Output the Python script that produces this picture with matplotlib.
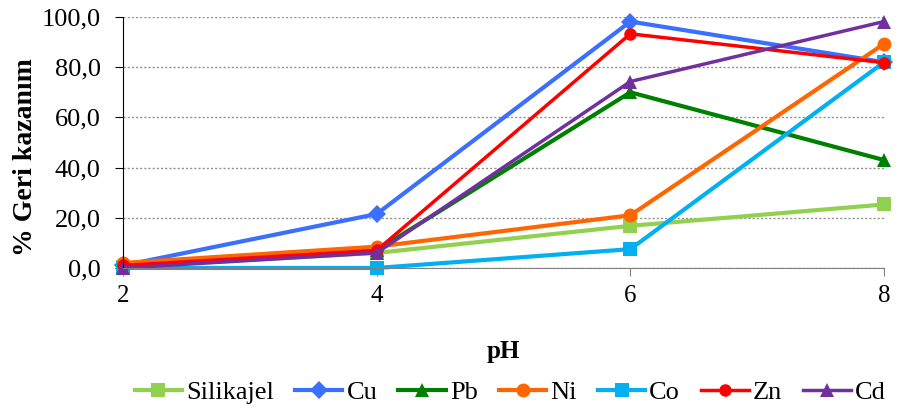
import matplotlib
matplotlib.use("Agg")
import matplotlib.pyplot as plt
from matplotlib.ticker import FuncFormatter

ph = [2, 4, 6, 8]
silikajel = [0.5, 6.0, 16.8, 25.3]
cu = [1.0, 21.5, 98.2, 82.0]
pb = [0.5, 7.0, 70.0, 43.0]
ni = [2.0, 8.5, 21.0, 89.3]
co = [0.0, 0.0, 7.5, 82.0]
zn = [1.0, 7.0, 93.3, 81.8]
cd = [0.0, 6.0, 74.3, 98.2]

names = ["Silikajel", "Cu", "Pb", "Ni", "Co", "Zn", "Cd"]
series = [silikajel, cu, pb, ni, co, zn, cd]
colors = ["#92D050", "#3A6FFF", "#008000", "#FF6600", "#00B0F0", "#FF0000", "#7030A0"]
markers = ["s", "D", "^", "o", "s", "o", "^"]
msizes = [10, 9, 10, 10, 10, 9, 10]
lws = [3.0, 3.0, 3.0, 3.0, 3.0, 2.5, 2.5]

plt.rcParams['font.family'] = ['Liberation Serif', 'DejaVu Serif']

fig = plt.figure(figsize=(9.14, 4.11), dpi=100)
ax = fig.add_axes([0.1346, 0.348, 0.8326, 0.6106])

for name, vals, c, m, ms, lw in zip(names, series, colors, markers, msizes, lws):
    ax.plot(ph, vals, color=c, marker=m, markersize=ms, linewidth=lw,
            label=name, clip_on=False, markeredgewidth=0)

ax.set_xlim(2, 8)
ax.set_ylim(0, 100)
ax.set_xticks(ph)
ax.set_yticks([0, 20, 40, 60, 80, 100])
ax.yaxis.set_major_formatter(FuncFormatter(lambda v, p: f"{v:.1f}".replace(".", ",")))
ax.grid(axis='y', color='#909090', linestyle=(0, (1.5, 1.5)), linewidth=1)
ax.set_axisbelow(True)
for s in ['top', 'right']:
    ax.spines[s].set_visible(False)
ax.spines['left'].set_color('black')
ax.spines['bottom'].set_color('#808080')
ax.tick_params(axis='y', direction='out', length=6, labelsize=19, pad=10)
ax.tick_params(axis='x', direction='out', length=6, labelsize=18, pad=6, color='#808080')

ax.set_ylabel("% Geri kazanım", fontsize=20, fontweight='bold')
ax.yaxis.set_label_coords(-0.112, 0.44)
ax.set_xlabel("pH", fontsize=18, fontweight='bold', labelpad=24)

fig.legend(loc='center', bbox_to_anchor=(0.558, 0.045), ncol=7, frameon=False,
           fontsize=19, handlelength=1.8, columnspacing=0.8, handletextpad=0.15)

fig.savefig("out.png", dpi=100)
